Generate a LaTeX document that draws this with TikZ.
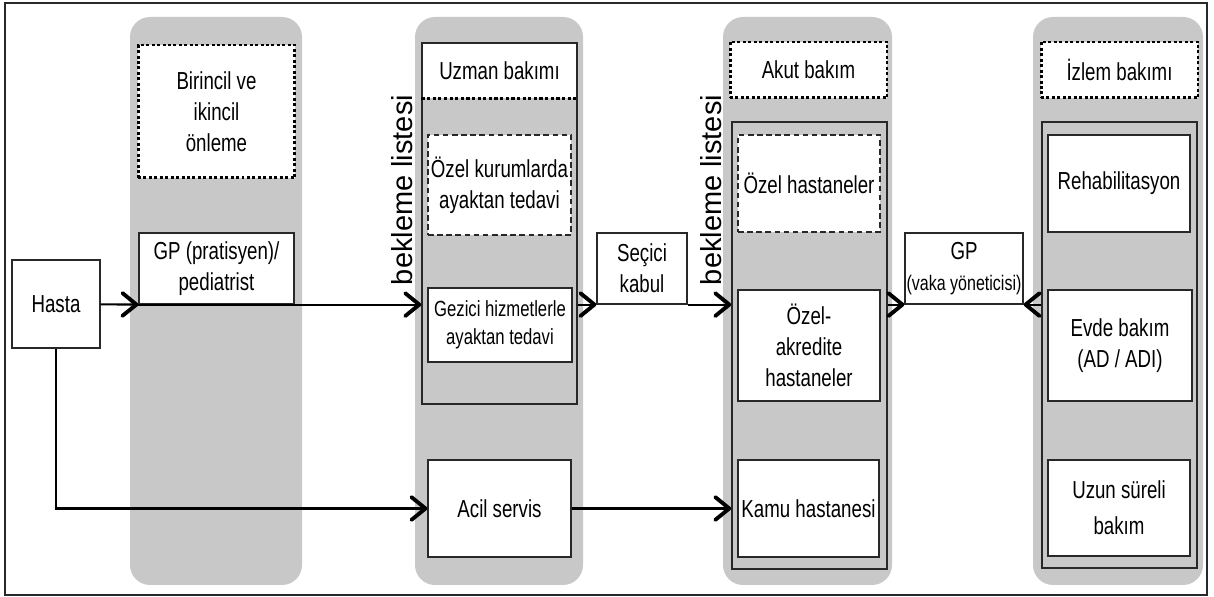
\documentclass[tikz,border=0pt]{standalone}
\usepackage{fontspec}
\setmainfont{Liberation Sans}[FakeStretch=0.76]
\newfontfamily\widesans{Liberation Sans}
\usetikzlibrary{arrows.meta, positioning}
\definecolor{bandgray}{RGB}{200,200,200}
\definecolor{edgegray}{RGB}{40,40,40}
\newcommand{\txt}{\fontsize{14}{17.5}\selectfont}

\begin{document}
\begin{tikzpicture}[x=0.02cm, y=-0.02cm,
  band/.style={fill=bandgray, rounded corners=0.4cm},
  box/.style={draw=edgegray, fill=white, line width=0.7pt, inner sep=0pt, align=center, font=\txt},
  dotbox/.style={box, draw=black, line width=1.7pt, dash pattern=on 1.7pt off 1.4pt},
  dashbox/.style={box, line width=0.9pt, dash pattern=on 3.2pt off 2pt},
  frame/.style={draw=edgegray, line width=0.9pt, inner sep=0pt},
  wait/.style={rotate=90, inner sep=0pt, font=\widesans\fontsize{16.5}{18}\selectfont},
  arr/.style={line width=1.2pt, -{Straight Barb[length=8pt, width=13pt, line width=2.2pt, round]}}]
\useasboundingbox (0,0) rectangle (1214,597);
\draw[edgegray, line width=0.8pt] (5,3) rectangle (1207,595);
\foreach \l/\r in {130/302, 415/583, 723/892, 1033/1203}
  \fill[band] (\l,17) rectangle (\r,585);

\node[box, draw=none, minimum width=3.1cm, minimum height=1.1cm] (uzman) at (499.5,70.5) {Uzman bakımı};
\node[frame, minimum width=3.1cm, minimum height=7.22cm] (uzmanbox) at (499.5,223.5) {};
\draw[black, line width=1.8pt, dash pattern=on 1.8pt off 1.4pt] (uzman.south west) -- (uzman.south east);
\node[frame, minimum width=3.1cm, minimum height=8.94cm] (akutbox) at (809.5,345.5) {};
\node[frame, minimum width=3.1cm, minimum height=8.92cm] (izlembox) at (1119.5,345) {};

\node[box, minimum width=1.76cm, minimum height=1.76cm] (hasta) at (56,304) {Hasta};
\node[dotbox, minimum width=3.14cm, minimum height=2.66cm] (onleme) at (216.5,111.5) {Birincil ve\\ikincil\\önleme};
\node[box, minimum width=3.1cm, minimum height=1.42cm] (gp) at (216.5,268.5) {GP (pratisyen)/\\pediatrist};

\node[dashbox, minimum width=2.86cm, minimum height=2cm] (ozelkurum) at (499.5,185) {Özel kurumlarda\\ayaktan tedavi};
\node[box, minimum width=2.88cm, minimum height=1.48cm, font=\fontsize{12.5}{16}\selectfont] (gezici) at (500,325) {Gezici hizmetlerle\\ayaktan tedavi};
\node[box, minimum width=2.86cm, minimum height=1.94cm] (acil) at (499.5,508.5) {Acil servis};
\node[wait] (bekleme1) at (402,190) {bekleme listesi};

\node[box, minimum width=1.8cm, minimum height=1.42cm] (secici) at (642,268.5) {Seçici\\kabul};

\node[dotbox, minimum width=3.14cm, minimum height=1.12cm] (akut) at (808.5,70) {Akut bakım};
\node[dashbox, minimum width=2.84cm, minimum height=1.94cm] (ozelhast) at (809,183.5) {Özel hastaneler};
\node[box, minimum width=2.84cm, minimum height=2.22cm] (akredite) at (809,345.5) {Özel-\\akredite\\hastaneler};
\node[box, minimum width=2.82cm, minimum height=1.94cm] (kamu) at (808.5,508.5) {Kamu hastanesi};
\node[wait] (bekleme2) at (711,190) {bekleme listesi};

\node[box, minimum width=2.36cm, minimum height=1.42cm] (gpvaka) at (964,268.5) {GP\\{\fontsize{12}{14}\selectfont (vaka yöneticisi)}};

\node[dotbox, minimum width=3.14cm, minimum height=1.12cm] (izlem) at (1119.5,70) {İzlem bakımı};
\node[box, minimum width=2.84cm, minimum height=1.94cm] (rehab) at (1119,183.5) {Rehabilitasyon};
\node[box, minimum width=2.88cm, minimum height=2.22cm] (evde) at (1120,345.5) {Evde bakım\\(AD / ADI)};
\node[box, minimum width=2.84cm, minimum height=1.92cm] (uzun) at (1119,508) {Uzun süreli\\[3pt]bakım};

\draw[arr] (hasta) -- (gp.south west);
\draw[arr] (gp.south west) -- (gp.south -| uzmanbox.west);
\draw[arr] (gp.south -| uzmanbox.east) -- (secici.south west);
\draw[arr] (secici.south east) -- (secici.south -| akutbox.west);
\draw[arr] (gpvaka.south -| akutbox.east) -- (gpvaka.south west);
\draw[arr] (gpvaka.south -| izlembox.west) -- (gpvaka.south east);
\draw[arr] (hasta.south) |- (acil.west);
\draw[arr] (acil.east) -- (acil.east -| akutbox.west);
\end{tikzpicture}
\end{document}
